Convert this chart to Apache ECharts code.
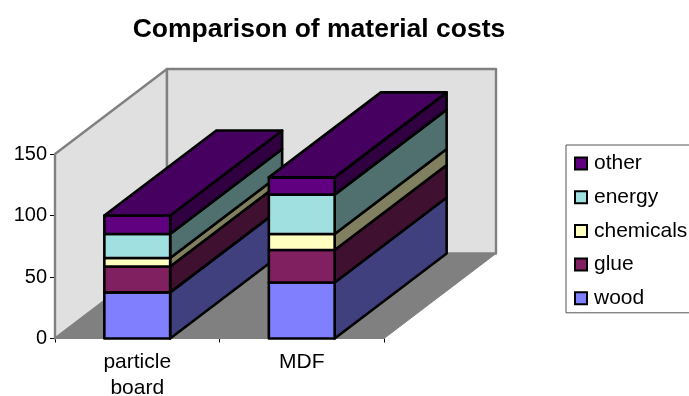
<!DOCTYPE html>
<html>
<head>
<meta charset="utf-8">
<style>html,body{margin:0;padding:0;background:#fff}#c{width:689px;height:396px}</style>
<script src="https://cdn.jsdelivr.net/npm/echarts@6/dist/echarts.min.js"></script>
</head>
<body>
<div id="c"></div>
<script>
// Material costs per board type
const categories = ['particle\nboard', 'MDF'];
const wood = [37.5, 45.5];
const glue = [21, 26.5];
const chemicals = [7, 13];
const energy = [19.5, 32];
const other = [15, 14];
const materialNames = ['wood', 'glue', 'chemicals', 'energy', 'other'];
const materialValues = [wood, glue, chemicals, energy, other];
const frontColors = ['#8080ff', '#802060', '#ffffc0', '#a0e0e0', '#600080'];
const sideColors = ['#40407f', '#401030', '#808060', '#507070', '#300040'];
const topColor = '#460060';
const yTicks = { min: 0, max: 150, interval: 50 };

// Oblique projection of the depth axis, in pixels
const depthX = 112;
const depthY = -85;
const FONT = '"Liberation Sans", Arial, sans-serif';
const EDGE = 2.6;

function poly(points, fill, stroke, width, z2) {
  return {
    type: 'polygon', z2: z2,
    shape: { points: points },
    style: { fill: fill, stroke: stroke, lineWidth: width, lineJoin: 'round' }
  };
}

// Side walls and floor of the chart box
function renderBox(params) {
  const c = params.coordSys;
  const l = c.x, r = c.x + c.width, t = c.y, b = c.y + c.height;
  const gray = '#808080', wall = '#e0e0e0';
  return {
    type: 'group',
    children: [
      poly([[l, b], [l, t], [l + depthX, t + depthY], [l + depthX, b + depthY]], wall, gray, 2.4, 1),
      poly([[l + depthX, b + depthY], [l + depthX, t + depthY], [r + depthX, t + depthY], [r + depthX, b + depthY]], wall, gray, 2.4, 1),
      poly([[l, b], [r, b], [r + depthX, b + depthY], [l + depthX, b + depthY]], gray, gray, 1, 2)
    ]
  };
}

// One block of a stacked 3D column: front, side and, on the top block, the lid
function renderBlock(stackIndex) {
  return function (params, api) {
    const cat = api.value(0);
    const size = api.size([1, 0])[0] * 0.4;
    const p0 = api.coord([cat, api.value(1)]);
    const p1 = api.coord([cat, api.value(2)]);
    const x0 = p0[0] - size / 2, x1 = p0[0] + size / 2;
    const yb = p0[1], yt = p1[1];
    const z = 10 + cat * 10 + stackIndex;
    const children = [
      poly([[x1, yb], [x1, yt], [x1 + depthX, yt + depthY], [x1 + depthX, yb + depthY]], sideColors[stackIndex], '#000', EDGE, z),
      poly([[x0, yb], [x1, yb], [x1, yt], [x0, yt]], frontColors[stackIndex], '#000', EDGE, z)
    ];
    if (stackIndex === materialNames.length - 1) {
      children.push(poly([[x0, yt], [x1, yt], [x1 + depthX, yt + depthY], [x0 + depthX, yt + depthY]], topColor, '#000', EDGE, z));
    }
    return { type: 'group', children: children };
  };
}

const running = categories.map(() => 0);
const blockSeries = materialNames.map((name, i) => ({
  name: name,
  type: 'custom',
  clip: false,
  silent: true,
  z: 3,
  itemStyle: { color: frontColors[i], borderColor: '#000', borderWidth: 2 },
  encode: { x: 0, y: [1, 2] },
  renderItem: renderBlock(i),
  data: categories.map((c, k) => {
    const low = running[k];
    running[k] += materialValues[i][k];
    return [k, low, running[k]];
  })
}));

const chart = echarts.init(document.getElementById('c'), null, { renderer: 'canvas' });
chart.setOption({
  animation: false,
  backgroundColor: '#fff',
  title: {
    text: 'Comparison of material costs',
    left: 314, top: 11, textAlign: 'center',
    textStyle: { fontFamily: FONT, fontSize: 26.5, fontWeight: 'bold', color: '#000' }
  },
  grid: { left: 55, right: 305, top: 154, bottom: 57.5, outerBoundsMode: 'none' },
  legend: {
    orient: 'vertical', left: 566, top: 145,
    padding: [8, 20, 4, 8],
    itemWidth: 12, itemHeight: 12, itemGap: 12.7,
    borderColor: '#555', borderWidth: 1, backgroundColor: '#fff',
    icon: 'rect', selectedMode: false,
    textStyle: { fontFamily: FONT, fontSize: 21, color: '#000', padding: [0, 0, 0, 2] },
    data: materialNames.map((n, i) => ({
      name: n,
      itemStyle: { color: frontColors[i], borderColor: '#000', borderWidth: 2 }
    })).reverse()
  },
  xAxis: {
    type: 'category', data: categories,
    axisLine: { lineStyle: { color: '#000', width: 1 } },
    axisTick: { show: true, alignWithLabel: false, length: 4, lineStyle: { color: '#000' } },
    axisLabel: { fontFamily: FONT, fontSize: 21, color: '#000', margin: 11, lineHeight: 26, interval: 0 }
  },
  yAxis: {
    type: 'value', min: yTicks.min, max: yTicks.max, interval: yTicks.interval,
    splitLine: { show: false },
    axisLine: { show: true, lineStyle: { color: '#000', width: 1 } },
    axisTick: { show: true, length: 5, lineStyle: { color: '#000' } },
    axisLabel: { fontFamily: FONT, fontSize: 20, color: '#000', margin: 8 }
  },
  series: [{
    type: 'custom', silent: true, clip: false, z: 1,
    renderItem: renderBox, data: [[0, 0]]
  }].concat(blockSeries)
});
</script>
</body>
</html>
